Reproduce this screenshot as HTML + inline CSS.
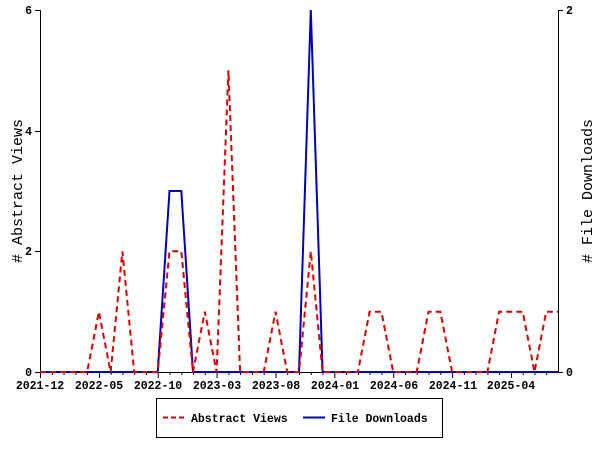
<!DOCTYPE html>
<html><head><style>
html,body{margin:0;padding:0;background:#fff;}
text{font-family:"Liberation Mono",monospace;font-weight:bold;font-size:11.5px;fill:#000;}
text.t{font-weight:normal;font-size:15px;}
</style></head><body>
<svg width="600" height="450" xmlns="http://www.w3.org/2000/svg">
<rect width="600" height="450" fill="#fff"/>
<g stroke="#000" stroke-width="1" fill="none">
<line x1="40.5" y1="10" x2="40.5" y2="372"/>
<line x1="558.5" y1="10" x2="558.5" y2="372"/>
<line x1="40" y1="372.5" x2="559" y2="372.5"/>
<line x1="35" y1="10.5" x2="40" y2="10.5"/>
<line x1="35" y1="131.5" x2="40" y2="131.5"/>
<line x1="35" y1="251.5" x2="40" y2="251.5"/>
<line x1="35" y1="372.5" x2="40" y2="372.5"/>
<line x1="558" y1="10.5" x2="563" y2="10.5"/>
<line x1="558" y1="372.5" x2="563" y2="372.5"/>
<path d="M40.5 372v6M52.3 372v3M64 372v3M75.8 372v3M87.6 372v3M99.4 372v6M111.1 372v3M122.9 372v3M134.7 372v3M146.5 372v3M158.2 372v6M170 372v3M181.8 372v3M193.5 372v3M205.3 372v3M217.1 372v6M228.9 372v3M240.6 372v3M252.4 372v3M264.2 372v3M276 372v6M287.7 372v3M299.5 372v3M311.3 372v3M323 372v3M334.8 372v6M346.6 372v3M358.4 372v3M370.1 372v3M381.9 372v3M393.7 372v6M405.5 372v3M417.2 372v3M429 372v3M440.8 372v3M452.6 372v6M464.3 372v3M476.1 372v3M487.9 372v3M499.6 372v3M511.4 372v6M523.2 372v3M535 372v3M546.7 372v3"/>
</g>
<text x="32" y="14" text-anchor="end">6</text>
<text x="32" y="135" text-anchor="end">4</text>
<text x="32" y="255" text-anchor="end">2</text>
<text x="32" y="376" text-anchor="end">0</text>
<text x="566" y="14">2</text>
<text x="566" y="376">0</text>
<g text-anchor="middle">
<text x="40" y="389">2021-12</text>
<text x="99" y="389">2022-05</text>
<text x="158" y="389">2022-10</text>
<text x="217" y="389">2023-03</text>
<text x="276" y="389">2023-08</text>
<text x="335" y="389">2024-01</text>
<text x="394" y="389">2024-06</text>
<text x="453" y="389">2024-11</text>
<text x="511" y="389">2025-04</text>
</g>
<text class="t" transform="translate(22,191) rotate(-90)" text-anchor="middle"># Abstract Views</text>
<text class="t" transform="translate(592,191) rotate(-90)" text-anchor="middle"># File Downloads</text>
<polyline fill="none" stroke="#0000c0" stroke-width="2" points="40,372 157.7,372 169.5,191 181.3,191 193,372 299,372 310.8,10 322.6,372 558,372"/>
<polyline fill="none" stroke="#dd0000" stroke-width="2" stroke-dasharray="6,4" points="40,372 87.1,372 98.9,311.7 110.6,372 122.4,251.3 134.2,372 157.7,372 169.5,251.3 181.3,251.3 193,372 204.8,311.7 216.6,372 228.4,70.3 240.1,372 263.7,372 275.5,311.7 287.2,372 299,372 310.8,251.3 322.6,372 357.9,372 369.6,311.7 381.4,311.7 393.2,372 416.7,372 428.5,311.7 440.3,311.7 452.1,372 487.4,372 499.1,311.7 522.7,311.7 534.5,372 546.2,311.7 558,311.7"/>
<rect x="156.5" y="398.5" width="286" height="39" fill="none" stroke="#000"/>
<line x1="163" y1="417.5" x2="184" y2="417.5" stroke="#dd0000" stroke-width="2" stroke-dasharray="5,3"/>
<text x="191" y="422">Abstract Views</text>
<line x1="303" y1="417.5" x2="325" y2="417.5" stroke="#0000c0" stroke-width="2"/>
<text x="331" y="422">File Downloads</text>
</svg>
</body></html>
